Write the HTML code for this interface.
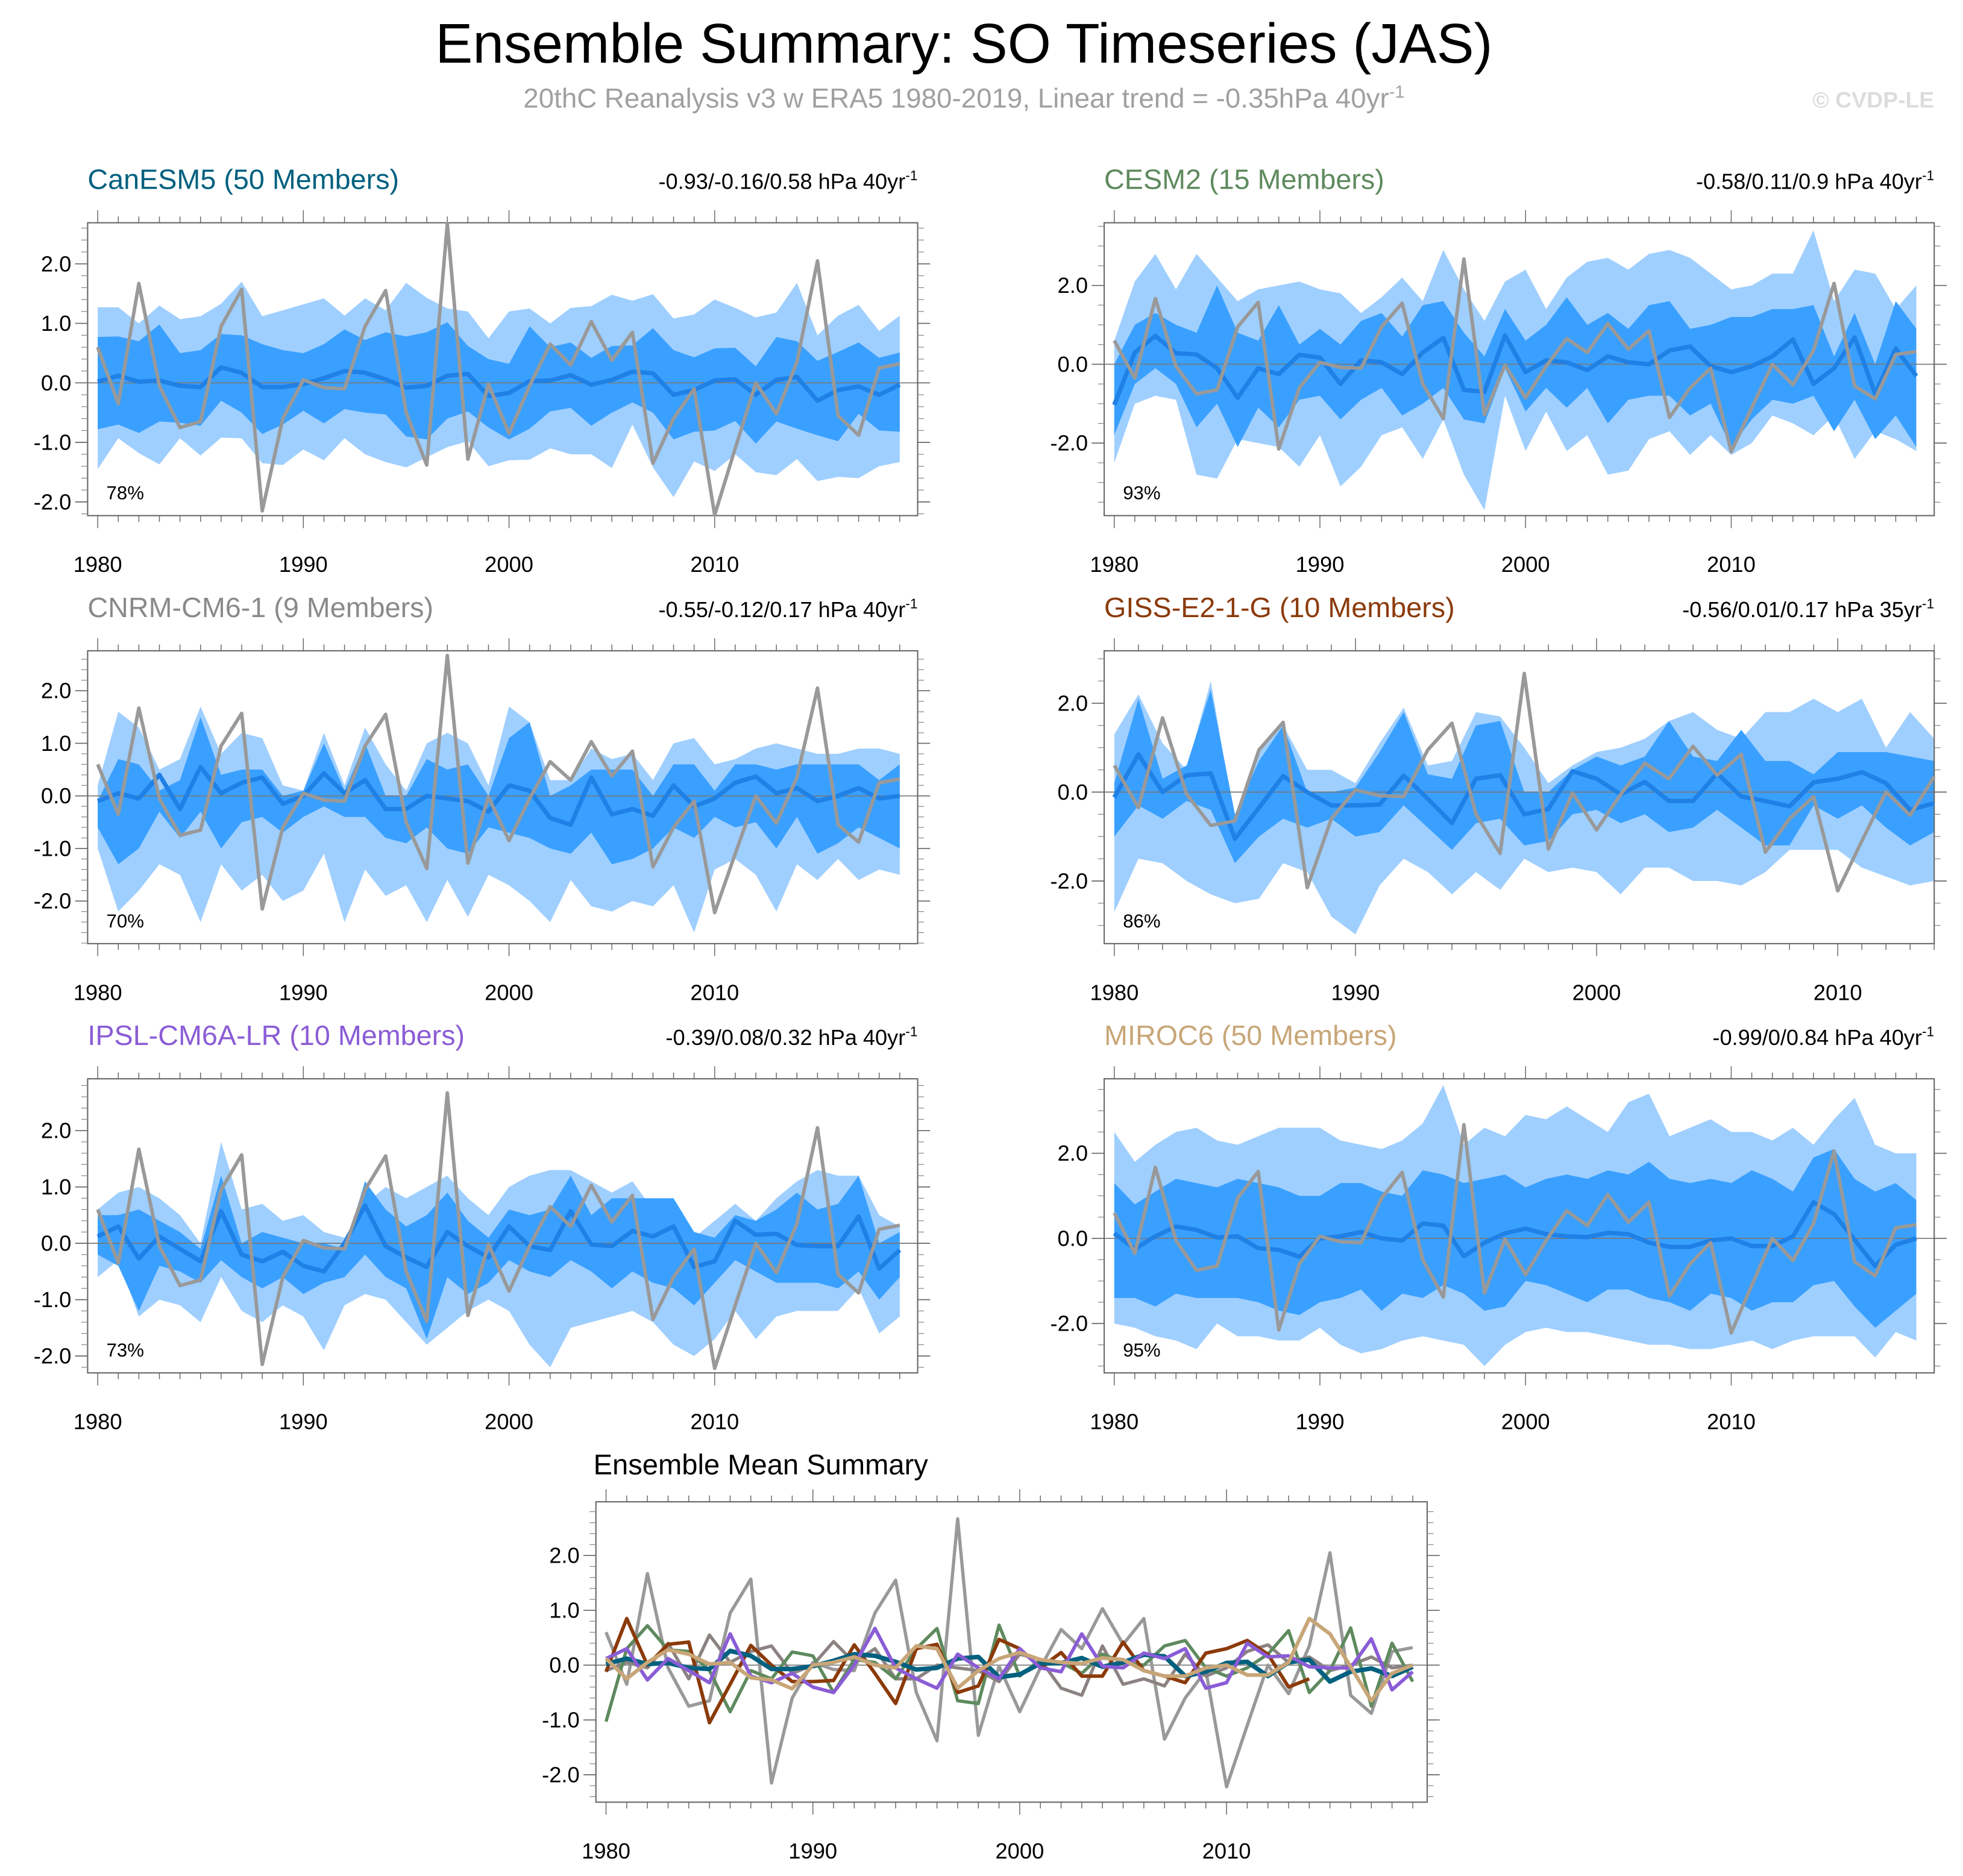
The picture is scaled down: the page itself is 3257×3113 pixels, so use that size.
<!DOCTYPE html>
<html><head><meta charset="utf-8">
<style>
html,body{margin:0;padding:0;background:#fff;}
svg{display:block;font-family:"Liberation Sans",sans-serif;}
</style></head>
<body>
<svg id="chart" width="3257" height="3113" viewBox="0 0 1568 1499" preserveAspectRatio="none" xmlns="http://www.w3.org/2000/svg">
<text x="770" y="50" font-size="44.7" text-anchor="middle" fill="#000">Ensemble Summary: SO Timeseries (JAS)</text>
<text x="770" y="86" font-size="22" text-anchor="middle" fill="#a0a0a0">20thC Reanalysis v3 w ERA5 1980-2019, Linear trend = -0.35hPa 40yr<tspan dy="-8" font-size="14">-1</tspan></text>
<text x="1545" y="86" font-size="18" font-weight="bold" text-anchor="end" fill="#dcdcdc">© CVDP-LE</text>
</svg>
<script>
const years = Array.from({length:40},(_,i)=>1980+i);
const yearsGiss = Array.from({length:35},(_,i)=>1980+i);
const obs = [0.6,-0.35,1.67,-0.05,-0.75,-0.65,0.95,1.57,-2.15,-0.6,0.05,-0.08,-0.1,0.95,1.55,-0.5,-1.38,2.67,-1.28,-0.02,-0.85,-0.05,0.65,0.3,1.03,0.38,0.85,-1.35,-0.6,-0.1,-2.22,-1.1,0.0,-0.52,0.35,2.05,-0.55,-0.88,0.25,0.32];

const canMean=[0.02,0.12,0.02,0.04,-0.05,-0.07,0.26,0.17,-0.07,-0.07,-0.02,0.08,0.2,0.17,0.06,-0.08,-0.05,0.12,0.15,-0.22,-0.17,0.03,0.04,0.13,-0.03,0.05,0.19,0.16,-0.2,-0.12,0.04,0.06,-0.2,0.05,0.1,-0.3,-0.12,-0.06,-0.2,-0.03];
const canInHi=[0.77,0.78,0.7,0.98,0.5,0.55,0.82,0.8,0.65,0.55,0.5,0.65,0.9,0.72,0.85,0.78,0.85,1.02,0.62,0.4,0.32,0.95,0.6,0.68,0.42,0.62,0.63,0.92,0.55,0.43,0.58,0.59,0.28,0.77,0.7,0.37,0.52,0.68,0.42,0.51];
const canInLo=[-0.78,-0.7,-0.84,-0.65,-0.67,-0.72,-0.3,-0.5,-0.86,-0.7,-0.47,-0.68,-0.44,-0.5,-0.53,-0.9,-0.95,-0.6,-0.48,-0.75,-0.95,-0.77,-0.48,-0.42,-0.72,-0.5,-0.33,-0.5,-0.95,-0.82,-0.8,-0.64,-1.02,-0.65,-0.77,-0.88,-0.98,-0.52,-0.8,-0.82];
const canOutHi=[1.27,1.27,1.0,1.3,1.07,1.12,1.33,1.7,1.12,1.22,1.32,1.42,1.13,1.42,1.22,1.68,1.43,1.25,1.2,0.75,1.2,1.25,1.0,1.26,1.29,1.48,1.38,1.49,1.08,1.15,1.4,1.26,1.1,1.18,1.68,0.8,1.13,1.31,0.87,1.13];
const canOutLo=[-1.45,-0.93,-1.18,-1.37,-0.93,-1.22,-0.92,-0.93,-1.35,-1.38,-1.12,-1.3,-0.93,-1.2,-1.33,-1.42,-1.25,-1.08,-0.98,-1.4,-1.3,-1.29,-1.1,-1.2,-1.2,-1.43,-0.7,-1.42,-1.92,-1.32,-1.48,-1.2,-1.5,-1.55,-1.28,-1.65,-1.58,-1.6,-1.4,-1.33];

const cesmMean=[-1.03,0.3,0.72,0.28,0.25,-0.1,-0.85,-0.1,-0.25,0.24,0.17,-0.5,0.1,0.05,-0.25,0.3,0.67,-0.65,-0.7,0.73,-0.2,0.1,0.05,-0.15,0.2,0.05,0.0,0.35,0.45,-0.05,-0.2,-0.05,0.2,0.63,-0.5,-0.1,0.68,-0.75,0.4,-0.3];
const cesmOutHi=[0.6,2.1,2.8,1.9,2.8,2.2,1.6,1.9,2.0,2.1,1.9,1.8,1.3,1.7,2.2,1.6,2.9,1.9,1.1,2.1,2.4,1.4,2.2,2.6,2.7,2.4,2.8,2.9,2.7,2.3,1.9,2.0,2.3,2.3,3.4,1.6,2.4,2.3,1.4,2.0];
const cesmOutLo=[-2.5,-1.0,-0.8,-0.9,-2.8,-2.9,-1.9,-2.0,-2.1,-2.6,-1.8,-3.1,-2.6,-1.8,-1.6,-2.4,-1.4,-2.8,-3.7,-0.8,-2.2,-1.2,-2.2,-1.8,-2.8,-2.7,-1.9,-1.7,-2.3,-1.8,-2.3,-2.0,-1.3,-1.5,-1.8,-1.3,-2.4,-1.7,-1.9,-2.2];
const cesmInHi=[0.0,1.0,1.3,1.0,0.8,2.0,0.8,0.6,1.5,0.5,0.9,0.5,1.1,1.3,0.7,1.5,1.6,0.8,0.2,1.4,0.6,1.0,1.7,1.0,1.3,0.9,1.5,1.6,0.9,1.0,1.2,1.2,1.4,1.4,1.5,0.2,1.3,0.0,1.6,0.9];
const cesmInLo=[-1.8,-0.5,-0.1,-0.5,-1.6,-1.0,-2.1,-1.1,-1.6,-0.9,-0.8,-1.4,-0.9,-0.6,-1.3,-1.0,-0.6,-1.4,-1.5,-0.1,-1.2,-0.6,-1.1,-0.6,-1.5,-0.9,-0.8,-0.8,-1.3,-1.0,-2.1,-1.4,-0.9,-1.0,-0.8,-1.7,-0.9,-1.9,-1.3,-2.1];

const cnrmMean=[-0.1,0.05,-0.05,0.4,-0.25,0.55,0.05,0.25,0.35,-0.15,0.0,0.43,0.05,0.3,-0.25,-0.25,0.0,-0.05,-0.1,-0.3,0.2,0.1,-0.42,-0.55,0.35,-0.35,-0.25,-0.38,0.2,-0.2,-0.05,0.25,0.37,0.05,0.15,-0.1,0.0,0.15,-0.05,0.0];
const cnrmOutHi=[0.2,1.6,1.3,0.5,0.7,1.7,0.8,1.2,1.1,0.2,0.1,1.2,0.2,1.3,0.6,0.1,1.0,1.2,1.0,0.2,1.7,1.4,0.3,0.3,0.9,0.7,0.8,0.3,1.0,1.1,0.6,0.7,0.9,1.0,0.9,0.8,0.8,0.9,0.9,0.8];
const cnrmInHi=[-0.1,0.7,0.6,0.1,0.3,1.5,0.4,0.5,0.5,0.0,0.1,1.0,0.1,1.0,0.0,0.0,0.7,0.5,0.6,0.0,1.1,1.4,0.0,0.2,0.5,0.5,0.5,0.0,0.6,0.6,0.1,0.6,0.6,0.5,0.6,0.6,0.6,0.6,0.3,0.6];
const cnrmInLo=[-0.6,-1.3,-1.0,-0.3,-0.8,-0.3,-1.0,-0.5,-0.4,-0.7,-0.4,-0.2,-0.4,-0.4,-0.8,-0.9,-0.6,-1.0,-1.1,-0.6,-0.7,-0.8,-1.0,-1.1,-0.7,-1.3,-1.2,-1.0,-0.6,-0.8,-0.4,-0.6,-0.5,-1.0,-0.4,-1.1,-0.9,-0.6,-0.8,-1.0];
const cnrmOutLo=[-1.0,-2.2,-1.8,-1.3,-1.5,-2.4,-1.3,-1.8,-1.5,-2.0,-1.8,-1.1,-2.4,-1.4,-1.9,-1.7,-2.4,-1.6,-2.3,-1.5,-1.7,-2.0,-2.4,-1.6,-2.1,-2.2,-2.0,-2.1,-1.7,-2.6,-1.4,-1.2,-1.5,-2.2,-1.3,-1.6,-1.2,-1.6,-1.4,-1.5];

const gissMean=[-0.12,0.85,0.0,0.38,0.42,-1.05,-0.35,0.36,0.0,-0.3,-0.3,-0.28,0.37,-0.15,-0.7,0.3,0.38,-0.5,-0.38,0.47,0.3,-0.05,0.23,-0.2,-0.2,0.42,-0.1,-0.2,-0.32,0.22,0.3,0.45,0.2,-0.4,-0.25];
const gissOutHi=[1.3,2.2,1.1,0.5,2.5,-0.7,1.0,1.5,0.5,0.5,0.2,1.1,1.9,0.6,0.7,1.8,1.7,1.0,0.2,0.6,0.9,1.0,1.2,1.6,1.8,1.4,1.2,1.8,1.8,2.1,1.8,2.1,1.0,1.8,1.2];
const gissInHi=[0.2,2.1,0.3,0.6,2.3,-0.5,0.7,1.5,0.0,0.0,0.1,0.9,1.8,0.4,0.3,1.5,1.6,0.0,0.0,0.5,0.8,0.6,0.8,1.6,0.8,0.7,1.4,0.7,0.7,0.4,0.9,0.9,0.9,0.8,0.7];
const gissInLo=[-1.0,-0.3,-0.6,-0.2,-0.4,-1.6,-1.0,-0.6,-0.8,-0.6,-1.0,-0.9,-0.3,-0.8,-1.3,-0.7,-0.6,-1.2,-1.1,-0.5,-0.4,-0.7,-0.5,-0.9,-0.8,-0.4,-0.8,-1.2,-1.2,-0.3,-0.6,-0.3,-0.8,-1.2,-0.9];
const gissOutLo=[-2.7,-1.5,-1.6,-2.0,-2.3,-2.5,-2.4,-1.6,-1.8,-2.8,-3.2,-2.1,-1.5,-1.8,-2.3,-1.8,-2.2,-1.5,-1.8,-1.7,-1.8,-2.3,-1.7,-1.7,-2.0,-2.0,-2.1,-1.8,-1.3,-1.3,-1.3,-1.7,-1.9,-2.1,-2.0];

const ipslMean=[0.12,0.3,-0.27,0.12,-0.1,-0.32,0.57,-0.2,-0.32,-0.15,-0.4,-0.5,0.0,0.67,-0.05,-0.25,-0.42,0.2,-0.05,-0.25,0.3,-0.05,-0.12,0.57,-0.02,-0.05,0.22,0.12,0.3,-0.42,-0.32,0.4,0.15,0.17,-0.03,-0.05,-0.05,0.48,-0.45,-0.12];
const ipslOutHi=[0.6,0.9,1.0,0.8,0.5,0.0,1.8,0.6,0.7,0.4,0.5,0.2,0.1,0.7,1.0,0.8,1.0,1.2,0.8,0.5,1.0,1.2,1.3,1.3,1.1,0.9,1.1,0.6,0.6,0.1,0.4,0.7,0.4,0.8,1.1,1.3,1.2,1.2,0.5,0.3];
const ipslInHi=[0.5,0.5,0.6,0.4,0.2,-0.1,1.2,0.0,0.2,0.1,0.0,0.0,-0.1,1.1,0.6,0.3,0.5,0.9,0.4,0.1,0.6,0.5,0.6,1.2,0.5,0.8,0.8,0.8,0.8,0.2,0.1,0.5,0.4,0.6,0.9,0.6,0.7,1.2,0.0,0.2];
const ipslInLo=[-0.2,-0.4,-1.2,-0.4,-0.5,-0.7,-0.3,-0.6,-0.8,-0.6,-0.9,-0.7,-0.6,-0.2,-0.6,-0.8,-1.7,-0.6,-0.9,-0.7,-0.3,-0.5,-0.6,-0.3,-0.5,-0.8,-0.5,-0.7,-0.8,-1.1,-0.7,-0.3,-0.5,-0.7,-0.7,-0.7,-0.8,-0.5,-1.0,-0.6];
const ipslOutLo=[-0.6,-0.3,-1.3,-1.0,-1.1,-1.4,-0.6,-1.2,-1.4,-1.1,-1.3,-1.9,-1.1,-0.9,-1.0,-1.4,-1.8,-1.5,-1.2,-1.0,-1.2,-1.8,-2.2,-1.5,-1.4,-1.3,-1.2,-1.4,-1.8,-2.0,-1.7,-1.2,-1.7,-1.3,-1.2,-1.2,-1.2,-0.8,-1.6,-1.3];

const mirocMean=[0.12,-0.25,0.05,0.28,0.2,0.02,0.05,-0.23,-0.27,-0.43,0.0,0.05,0.15,0.0,-0.05,0.35,0.3,-0.42,-0.1,0.12,0.23,0.1,0.05,0.03,0.13,0.1,-0.1,-0.2,-0.2,-0.05,0.0,-0.18,-0.18,0.05,0.85,0.57,-0.03,-0.65,-0.15,0.0];
const mirocOutHi=[2.5,1.8,2.2,2.5,2.6,2.3,2.2,2.4,2.6,2.6,2.6,2.3,2.2,2.1,2.3,2.7,3.6,2.2,2.6,2.4,2.9,2.8,3.1,2.8,2.5,3.2,3.4,2.4,2.6,2.8,2.5,2.5,2.3,2.6,2.2,2.8,3.3,2.2,2.0,2.0];
const mirocInHi=[1.3,0.8,1.1,1.4,1.3,1.2,1.4,1.3,1.2,1.0,1.0,1.3,1.3,1.1,1.0,1.6,1.5,1.3,1.4,1.5,1.2,1.4,1.5,1.4,1.6,1.5,1.8,1.4,1.3,1.4,1.3,1.6,1.4,1.1,1.9,2.1,1.4,1.1,1.3,0.9];
const mirocInLo=[-1.4,-1.4,-1.6,-1.3,-1.4,-1.4,-1.4,-1.5,-1.7,-1.8,-1.5,-1.4,-1.2,-1.7,-1.3,-1.4,-1.1,-1.3,-1.7,-1.6,-1.0,-1.1,-1.3,-1.5,-1.2,-1.2,-1.4,-1.5,-1.7,-1.3,-1.4,-1.7,-1.5,-1.5,-1.1,-1.0,-1.6,-2.1,-1.7,-1.3];
const mirocOutLo=[-2.0,-2.1,-2.3,-2.4,-2.6,-2.0,-2.3,-2.3,-2.4,-2.4,-2.1,-2.5,-2.7,-2.6,-2.4,-2.3,-2.4,-2.5,-3.0,-2.5,-2.2,-2.1,-2.2,-2.2,-2.3,-2.4,-2.5,-2.5,-2.6,-2.6,-2.5,-2.4,-2.6,-2.4,-2.3,-2.3,-2.3,-2.8,-2.2,-2.4];

const yTicksFine=[-2,-1,0,1,2];
const yTicksCoarse=[-2,0,2];
const xTickYears=[1980,1990,2000,2010];

const NS='http://www.w3.org/2000/svg';
const svg=document.getElementById('chart');
function mk(tag,attrs,parent){const e=document.createElementNS(NS,tag);for(const k in attrs)e.setAttribute(k,attrs[k]);(parent||svg).appendChild(e);return e;}

const panels=[
 {name:'canesm5',title:'CanESM5 (50 Members)',color:'#00607f',trend:'-0.93/-0.16/0.58 hPa 40yr',pct:'78%',x0:70,x1:733,y0:178,y1:412,vmin:-2.23,vmax:2.69,xmin:1979.51,xmax:2019.87,yt:yTicksFine,minor:0.2,yrs:years,mean:canMean,inHi:canInHi,inLo:canInLo,outHi:canOutHi,outLo:canOutLo},
 {name:'cesm2',title:'CESM2 (15 Members)',color:'#5e8a5e',trend:'-0.58/0.11/0.9 hPa 40yr',pct:'93%',x0:882,x1:1545,y0:178,y1:412,vmin:-3.84,vmax:3.59,xmin:1979.51,xmax:2019.87,yt:yTicksCoarse,minor:0.5,yrs:years,mean:cesmMean,inHi:cesmInHi,inLo:cesmInLo,outHi:cesmOutHi,outLo:cesmOutLo},
 {name:'cnrm-cm6-1',title:'CNRM-CM6-1 (9 Members)',color:'#8a8a8a',trend:'-0.55/-0.12/0.17 hPa 40yr',pct:'70%',x0:70,x1:733,y0:520,y1:754,vmin:-2.81,vmax:2.76,xmin:1979.51,xmax:2019.87,yt:yTicksFine,minor:0.2,yrs:years,mean:cnrmMean,inHi:cnrmInHi,inLo:cnrmInLo,outHi:cnrmOutHi,outLo:cnrmOutLo},
 {name:'giss-e2-1-g',title:'GISS-E2-1-G (10 Members)',color:'#8b3a0a',trend:'-0.56/0.01/0.17 hPa 35yr',pct:'86%',x0:882,x1:1545,y0:520,y1:754,vmin:-3.41,vmax:3.18,xmin:1979.58,xmax:2014,yt:yTicksCoarse,minor:0.5,yrs:yearsGiss,mean:gissMean,inHi:gissInHi,inLo:gissInLo,outHi:gissOutHi,outLo:gissOutLo},
 {name:'ipsl-cm6a-lr',title:'IPSL-CM6A-LR (10 Members)',color:'#8a5cd6',trend:'-0.39/0.08/0.32 hPa 40yr',pct:'73%',x0:70,x1:733,y0:862,y1:1097,vmin:-2.30,vmax:2.92,xmin:1979.51,xmax:2019.87,yt:yTicksFine,minor:0.2,yrs:years,mean:ipslMean,inHi:ipslInHi,inLo:ipslInLo,outHi:ipslOutHi,outLo:ipslOutLo},
 {name:'miroc6',title:'MIROC6 (50 Members)',color:'#c8a678',trend:'-0.99/0/0.84 hPa 40yr',pct:'95%',x0:882,x1:1545,y0:862,y1:1097,vmin:-3.16,vmax:3.75,xmin:1979.51,xmax:2019.87,yt:yTicksCoarse,minor:0.5,yrs:years,mean:mirocMean,inHi:mirocInHi,inLo:mirocInLo,outHi:mirocOutHi,outLo:mirocOutLo}
];

function axes(p){
  const X=v=>p.x0+(v-p.xmin)/(p.xmax-p.xmin)*(p.x1-p.x0);
  const Y=v=>p.y1-(v-p.vmin)/(p.vmax-p.vmin)*(p.y1-p.y0);
  return {X,Y};
}
function drawFrame(p,g,X,Y){
  const z=mk('line',{x1:p.x0,x2:p.x1,y1:Y(0),y2:Y(0),stroke:'#777','stroke-width':0.8},g);
  
  const fr=mk('rect',{x:p.x0,y:p.y0,width:p.x1-p.x0,height:p.y1-p.y0,fill:'none',stroke:'#666','stroke-width':1},g);
  
  for(let yr=1980;yr<=Math.floor(p.xmax);yr++){
    const major=yr%10===0, len=major?10:5, x=X(yr);
    mk('line',{x1:x,x2:x,y1:p.y1,y2:p.y1+len,stroke:'#666','stroke-width':0.7},g);
    mk('line',{x1:x,x2:x,y1:p.y0,y2:p.y0-len,stroke:'#666','stroke-width':0.7},g);
  }
  xTickYears.forEach(yr=>{
    const t=mk('text',{x:X(yr),y:p.y1+45,'font-size':17.5,'text-anchor':'middle',fill:'#000'},g);
    
    t.textContent=yr;
  });
  const step=p.minor;
  for(let v=Math.ceil(p.vmin/step)*step;v<=p.vmax+1e-9;v+=step){
    const y=Y(v);
    mk('line',{x1:p.x0,x2:p.x0-5,y1:y,y2:y,stroke:'#888','stroke-width':0.6},g);
    mk('line',{x1:p.x1,x2:p.x1+5,y1:y,y2:y,stroke:'#888','stroke-width':0.6},g);
  }
  p.yt.forEach(v=>{
    const y=Y(v);
    mk('line',{x1:p.x0,x2:p.x0-10,y1:y,y2:y,stroke:'#666','stroke-width':0.8},g);
    mk('line',{x1:p.x1,x2:p.x1+10,y1:y,y2:y,stroke:'#666','stroke-width':0.8},g);
    const t=mk('text',{x:p.x0-13,y:y+6,'font-size':17.5,'text-anchor':'end',fill:'#000'},g);
    
    t.textContent=v.toFixed(1);
  });
}
function linePath(xs,vs,X,Y){return xs.map((x,i)=>(i?'L':'M')+X(x).toFixed(2)+','+Y(vs[i]).toFixed(2)).join('');}
function bandPath(xs,hi,lo,X,Y){
  let d=xs.map((x,i)=>(i?'L':'M')+X(x).toFixed(2)+','+Y(hi[i]).toFixed(2)).join('');
  for(let i=xs.length-1;i>=0;i--)d+='L'+X(xs[i]).toFixed(2)+','+Y(lo[i]).toFixed(2);
  return d+'Z';
}

panels.forEach(p=>{
  const g=mk('g',{});
  
  
  const {X,Y}=axes(p);
  const t=mk('text',{x:p.x0,y:p.y0-27,'font-size':22.5,fill:p.color},g);
  
  t.textContent=p.title;
  const tr=mk('text',{x:p.x1,y:p.y0-27,'font-size':17.4,'text-anchor':'end',fill:'#000'},g);
  
  tr.innerHTML=p.trend+'<tspan dy="-7" font-size="11">-1</tspan>';
  const ob=mk('path',{d:bandPath(p.yrs,p.outHi,p.outLo,X,Y),fill:'#9fcfff'},g);
  
  const ib=mk('path',{d:bandPath(p.yrs,p.inHi,p.inLo,X,Y),fill:'#3aa0ff'},g);
  
  drawFrame(p,g,X,Y);
  const m=mk('path',{d:linePath(p.yrs,p.mean,X,Y),fill:'none',stroke:'#1f80e6','stroke-width':3.5,'stroke-linejoin':'round'},g);
  
  const o=mk('path',{d:linePath(p.yrs,obs.slice(0,p.yrs.length),X,Y),fill:'none',stroke:'#999','stroke-width':2.8,'stroke-linejoin':'round'},g);
  
  const pc=mk('text',{x:p.x0+15,y:p.y1-13,'font-size':15,fill:'#000'},g);
  
  pc.textContent=p.pct;
});

const sp={x0:476,x1:1140,y0:1200,y1:1440,vmin:-2.5,vmax:2.98,xmin:1979.51,xmax:2019.7,yt:yTicksFine,minor:0.2};
const sg=mk('g',{});


const S=axes(sp);
const st=mk('text',{x:sp.x0-2,y:sp.y0-22,'font-size':22.7,fill:'#000'},sg);

st.textContent='Ensemble Mean Summary';
drawFrame(sp,sg,S.X,S.Y);
const series=[
 {n:'obs',v:obs,c:'#999',w:2.6,yrs:years},
 {n:'cnrm-cm6-1',v:cnrmMean,c:'#8c8282',w:2.6,yrs:years},
 {n:'cesm2',v:cesmMean,c:'#5e8a5e',w:2.6,yrs:years},
 {n:'giss-e2-1-g',v:gissMean,c:'#8b3a0a',w:2.8,yrs:yearsGiss},
 {n:'canesm5',v:canMean,c:'#00607f',w:3.6,yrs:years},
 {n:'ipsl-cm6a-lr',v:ipslMean,c:'#8a5cd6',w:2.8,yrs:years},
 {n:'miroc6',v:mirocMean,c:'#c8a678',w:3.0,yrs:years}
];
series.forEach(s=>{
  const l=mk('path',{d:linePath(s.yrs,s.v,S.X,S.Y),fill:'none',stroke:s.c,'stroke-width':s.w,'stroke-linejoin':'round'},sg);
  
  
});
</script>
</body></html>
